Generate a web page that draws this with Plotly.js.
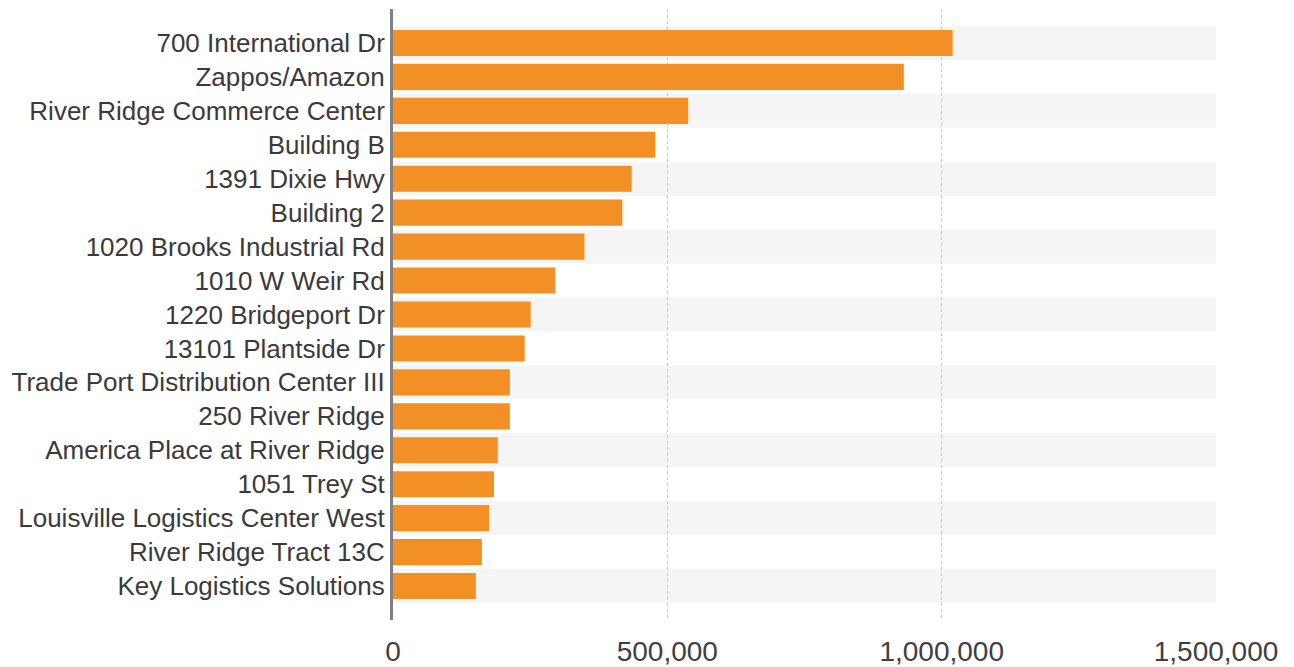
<!DOCTYPE html>
<html>
<head>
<meta charset="utf-8">
<script src="https://cdn.plot.ly/plotly-3.0.1.min.js"></script>
<style>html,body{margin:0;padding:0;background:#fff;}#chart{width:1294px;height:667px;}</style>
</head>
<body>
<div id="chart"></div>
<script>
const categories = [
  "700 International Dr",
  "Zappos/Amazon",
  "River Ridge Commerce Center",
  "Building B",
  "1391 Dixie Hwy",
  "Building 2",
  "1020 Brooks Industrial Rd",
  "1010 W Weir Rd",
  "1220 Bridgeport Dr",
  "13101 Plantside Dr",
  "Trade Port Distribution Center III",
  "250 River Ridge",
  "America Place at River Ridge",
  "1051 Trey St",
  "Louisville Logistics Center West",
  "River Ridge Tract 13C",
  "Key Logistics Solutions"
];
const values = [1020000, 931000, 538000, 478000, 435000, 418000, 349000, 296000, 251000, 240000, 213000, 213000, 191000, 184000, 175000, 162000, 151000];
const tickVals = [0, 500000, 1000000, 1500000];
const tickText = ["0", "500,000", "1,000,000", "1,500,000"];

const shapes = [];
for (let i = 0; i < categories.length; i += 2) {
  shapes.push({
    type: 'rect', xref: 'x', yref: 'y', layer: 'below',
    x0: 0, x1: 1500000, y0: i - 0.5, y1: i + 0.5,
    fillcolor: '#f5f5f5', line: {width: 0}
  });
}

const trace = {
  type: 'bar', orientation: 'h',
  x: values, y: categories,
  width: 0.77,
  marker: {color: '#F29025', line: {width: 0}},
  hoverinfo: 'x+y'
};

const layout = {
  width: 1294, height: 667,
  margin: {l: 393, r: 78, t: 9, b: 47},
  paper_bgcolor: '#ffffff', plot_bgcolor: '#ffffff',
  showlegend: false,
  font: {family: 'Arial, "Liberation Sans", sans-serif', color: '#404040'},
  xaxis: {
    range: [0, 1500000],
    tickvals: tickVals, ticktext: tickText,
    tickfont: {size: 28, color: '#404040'},
    showgrid: true, gridcolor: '#c4c4c4', griddash: 'dot', gridwidth: 1,
    zeroline: false, showline: false, ticks: '',
    ticklabelstandoff: 12
  },
  yaxis: {
    type: 'category',
    range: [17, -1],
    tickfont: {size: 26, color: '#3a3a3a'},
    showgrid: false, zeroline: false,
    showline: true, linecolor: '#808080', linewidth: 3,
    ticks: '', ticklabelstandoff: 0
  },
  shapes: shapes
};

Plotly.newPlot('chart', [trace], layout, {displayModeBar: false, staticPlot: true});
</script>
</body>
</html>
